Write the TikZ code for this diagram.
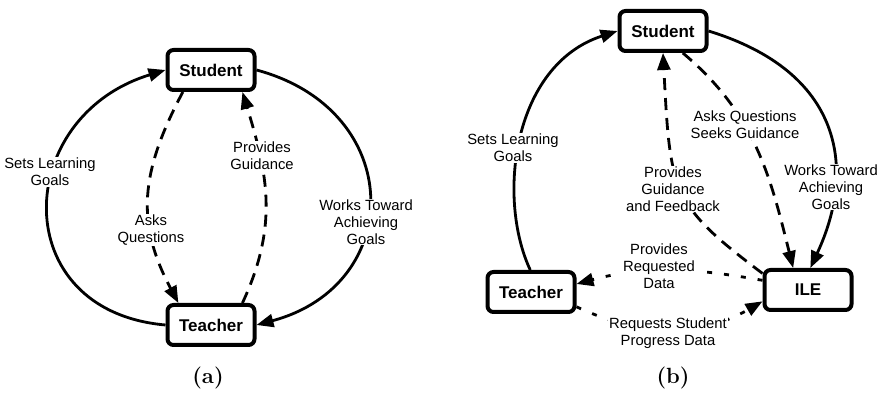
\documentclass[tikz,border=0pt]{standalone}
\usepackage{fontspec}
\newfontfamily\arialfont{Liberation Sans}
\usetikzlibrary{arrows.meta}

\tikzset{
	actor/.style={draw, line width=4pt, rounded corners=6pt, minimum width=87pt, minimum height=40pt, fill=white, font=\arialfont\bfseries\fontsize{17}{19}\selectfont},
	lbl/.style={fill=white, inner sep=1pt, align=center, font=\arialfont\fontsize{14.8}{16.8}\selectfont},
	flow/.style={line width=2.8pt, -{Triangle[length=17pt,width=13pt]}},
	dsh/.style={dash pattern=on 12pt off 8pt},
	dts/.style={dash pattern=on 5pt off 12pt},
	capt/.style={font=\bfseries\fontsize{22}{24}\selectfont}
}

\begin{document}
\begin{tikzpicture}[x=1pt, y=1pt]
			\useasboundingbox (0, 0) rectangle (882, 393);
			\node[actor] (sa) at (211, 323) {Student};
			\node[actor] (ta) at (211, 68) {Teacher};
			\path[flow] (ta.west) edge[out=175, in=197, distance=160pt] (sa.west);
			\path[flow] (sa.east) edge[out=-15, in=15, distance=155pt] (ta.east);
			\path[flow, dsh] (sa.218) edge[out=242, in=118, distance=91pt] (ta.146);
			\path[flow, dsh] (ta.35) edge[out=65, in=-73, distance=86pt] (sa.325);
			\node[lbl] (la1) at (50, 221) {Sets Learning\\Goals};
			\node[lbl] (la2) at (366, 171) {Works Toward\\Achieving\\Goals};
			\node[lbl] (la3) at (151, 163) {Asks\\Questions};
			\node[lbl] (la4) at (262, 237) {Provides\\Guidance};
			\node[capt] (ca) at (208, 15) {(a)};
			\node[actor] (sb) at (663, 362) {Student};
			\node[actor] (tb) at (531, 101) {Teacher};
			\node[actor] (ib) at (808, 103) {ILE};
			\path[flow] (tb.92) edge[out=115, in=198, out distance=80pt, in distance=110pt] (sb.west);
			\path[flow] (sb.east) edge[out=-17, in=65, out distance=140pt, in distance=110pt] (ib.84);
			\path[flow, dsh] (sb.-48) edge[out=-40, in=104] (ib.124);
			\path[flow, dsh] (ib.160) edge[out=143, in=-87, out distance=115pt, in distance=140pt] (sb.south);
			\path[flow, dts] (ib.168) edge[out=170, in=15] (tb.10);
			\path[flow, dts] (tb.-18) edge[out=-25, in=210] (ib.194);
			\node[lbl] (lb1) at (513, 245) {Sets Learning\\Goals};
			\node[lbl] (lb2) at (745, 268) {Asks Questions\\Seeks Guidance};
			\node[lbl] (lb3) at (831, 206) {Works Toward\\Achieving\\Goals};
			\node[lbl] (lb4) at (673, 204) {Provides\\Guidance\\and Feedback};
			\node[lbl] (lb5) at (659, 127) {Provides\\Requested\\Data};
			\node[lbl] (lb6) at (668, 60) {Requests Student\\Progress Data};
			\node[capt] (cb) at (673, 15) {(b)};
		\end{tikzpicture}
\end{document}
